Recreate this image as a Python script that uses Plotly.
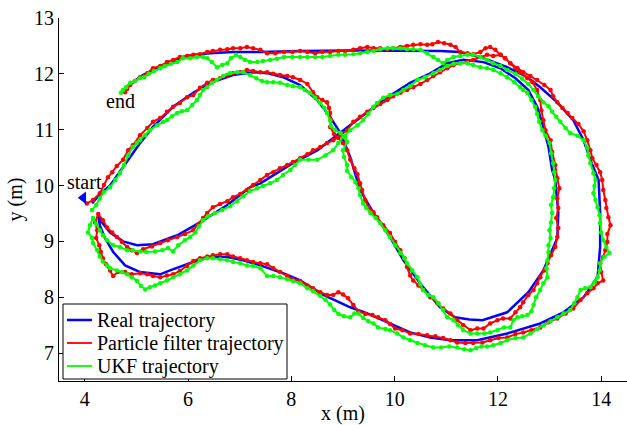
import plotly.graph_objects as go

# Real trajectory (x, y) in metres
real_xy = [(4.14,9.68),(4.30,9.85),(4.49,10.00),(4.66,10.22),(4.82,10.42),(5.07,10.76),(5.32,11.05),(5.71,11.41),
(6.10,11.66),(6.43,11.84),(6.87,11.98),(7.26,12.03),(7.55,12.01),(7.84,11.94),(8.17,11.80),(8.50,11.53),(8.75,11.23),
(8.95,10.94),(9.14,10.51),(9.33,9.92),(9.59,9.51),(9.91,9.08),(10.17,8.66),(10.55,8.18),(10.88,7.82),(11.17,7.64),
(11.45,7.60),(11.70,7.59),(12.18,7.73),(12.59,8.09),(12.88,8.48),(13.15,9.06),(13.17,9.51),(13.11,10.10),(13.05,10.28),
(12.98,10.69),(12.88,11.05),(12.76,11.41),(12.59,11.71),(12.34,11.92),(12.05,12.10),(11.72,12.21),(11.33,12.25),
(11.02,12.19),(10.69,12.01),(10.30,11.84),(9.78,11.53),(8.95,10.94),(8.50,10.63),(8.03,10.40),(7.59,10.15),(7.40,10.04),
(7.20,9.97),(6.76,9.65),(6.23,9.34),(5.79,9.11),(5.32,8.95),(5.01,8.93),(4.74,9.00),(4.49,9.16),(4.33,9.34),(4.26,9.45),
(4.29,9.29),(4.39,9.06),(4.55,8.81),(4.78,8.57),(5.07,8.45),(5.46,8.41),(5.65,8.48),(6.10,8.63),(6.43,8.72),(6.76,8.72),
(7.07,8.66),(7.40,8.57),(7.84,8.43),(8.17,8.30),(8.62,8.04),(9.14,7.82),(9.47,7.71),(9.91,7.53),(10.30,7.37),(10.69,7.28),
(11.08,7.23),(11.60,7.23),(12.18,7.35),(12.82,7.53),(13.27,7.73),(13.66,8.00),(13.93,8.36),(13.98,8.90),(13.98,9.51),
(13.95,10.10),(13.79,10.46),(13.66,10.81),(13.46,11.17),(13.15,11.49),(12.82,11.76),(12.57,11.94),(12.18,12.12),
(11.72,12.28),(11.27,12.39),(10.88,12.41),(9.14,12.42),(8.17,12.41),(7.40,12.39),(6.87,12.39),(6.43,12.37),(6.10,12.34),
(5.79,12.25),(5.46,12.12),(5.13,11.98),(4.82,11.78),(4.72,11.67)]

# Particle filter estimate
pf_xy = [(4.04,9.68),(4.16,9.74),(4.29,9.86),(4.37,10.01),(4.45,10.15),(4.53,10.24),(4.62,10.35),(4.74,10.46),(4.84,10.63),
(4.93,10.72),(5.07,10.90),(5.21,11.03),(5.32,11.14),(5.46,11.21),(5.59,11.32),(5.71,11.41),(5.84,11.48),(5.98,11.58),
(6.10,11.62),(6.23,11.75),(6.37,11.84),(6.48,11.89),(6.62,11.92),(6.76,11.98),(6.87,12.01),(7.01,12.03),(7.14,12.07),
(7.26,12.05),(7.40,12.03),(7.53,12.03),(7.65,12.00),(7.78,11.98),(7.92,11.96),(8.03,11.94),(8.17,11.89),(8.31,11.82),
(8.42,11.67),(8.50,11.58),(8.60,11.53),(8.69,11.49),(8.73,11.39),(8.75,11.30),(8.77,11.17),(8.75,11.05),(8.83,10.92),
(8.91,10.85),(9.00,10.76),(9.08,10.63),(9.14,10.46),(9.22,10.31),(9.28,10.20),(9.33,10.04),(9.37,9.92),(9.43,9.74),
(9.49,9.61),(9.59,9.52),(9.66,9.43),(9.78,9.29),(9.91,9.15),(10.01,8.99),(10.11,8.84),(10.19,8.70),(10.24,8.54),
(10.30,8.39),(10.36,8.30),(10.46,8.21),(10.55,8.13),(10.69,8.00),(10.83,7.89),(10.94,7.80),(11.08,7.71),(11.21,7.59),
(11.33,7.50),(11.47,7.41),(11.60,7.44),(11.72,7.44),(11.85,7.53),(11.99,7.59),(12.10,7.62),(12.24,7.62),(12.34,7.73),
(12.43,7.82),(12.49,7.91),(12.59,8.04),(12.69,8.13),(12.76,8.25),(12.82,8.36),(12.90,8.48),(12.96,8.61),(13.03,8.75),
(13.11,8.90),(13.15,9.08),(13.17,9.24),(13.13,9.42),(13.17,9.60),(13.15,9.77),(13.19,9.95),(13.15,10.13),(13.11,10.37),
(13.05,10.60),(13.02,10.81),(12.92,10.99),(12.88,11.17),(12.84,11.35),(12.82,11.53),(12.76,11.71),(12.67,11.85),
(12.57,11.92),(12.43,12.03),(12.34,12.10),(12.24,12.19),(12.14,12.28),(12.05,12.34),(11.91,12.32),(11.79,12.34),
(11.66,12.30),(11.52,12.25),(11.41,12.21),(11.27,12.19),(11.14,12.16),(11.02,12.10),(10.88,12.03),(10.75,11.96),
(10.63,11.89),(10.50,11.82),(10.36,11.76),(10.24,11.71),(10.11,11.66),(9.97,11.60),(9.86,11.53),(9.72,11.46),
(9.59,11.39),(9.47,11.32),(9.33,11.23),(9.20,11.14),(9.08,10.99),(8.95,10.90),(8.81,10.81),(8.69,10.76),(8.56,10.69),
(8.42,10.63),(8.31,10.56),(8.17,10.49),(8.03,10.42),(7.92,10.37),(7.78,10.31),(7.65,10.24),(7.53,10.19),(7.40,10.10),
(7.26,10.01),(7.14,9.92),(7.01,9.85),(6.87,9.79),(6.76,9.72),(6.62,9.67),(6.48,9.61),(6.37,9.51),(6.29,9.42),(6.19,9.29),
(6.10,9.20),(5.94,9.13),(5.79,9.08),(5.61,9.02),(5.46,8.97),(5.30,8.91),(5.13,8.86),(5.01,8.79),(4.91,8.84),(4.82,8.90),
(4.72,8.99),(4.62,9.08),(4.53,9.16),(4.43,9.25),(4.35,9.38),(4.26,9.49),(4.20,9.34),(4.24,9.20),(4.22,9.06),(4.28,8.93),
(4.31,8.81),(4.35,8.70),(4.41,8.59),(4.49,8.48),(4.55,8.38),(4.64,8.45),(4.78,8.45),(4.91,8.41),(5.07,8.43),(5.21,8.41),
(5.32,8.38),(5.46,8.36),(5.59,8.39),(5.71,8.41),(5.84,8.47),(5.98,8.56),(6.10,8.65),(6.23,8.70),(6.37,8.73),(6.48,8.75),
(6.62,8.77),(6.76,8.77),(6.87,8.73),(7.01,8.70),(7.14,8.66),(7.26,8.63),(7.40,8.61),(7.53,8.59),(7.65,8.52),(7.78,8.45),
(7.92,8.38),(8.03,8.32),(8.17,8.29),(8.31,8.21),(8.42,8.16),(8.56,8.09),(8.69,8.04),(8.81,8.04),(8.91,8.09),(9.00,8.05),
(9.10,7.98),(9.20,7.86),(9.30,7.75),(9.43,7.70),(9.57,7.68),(9.68,7.64),(9.82,7.59),(9.91,7.52),(10.01,7.44),(10.15,7.41),
(10.30,7.35),(10.46,7.34),(10.63,7.32),(10.79,7.30),(10.94,7.27),(11.08,7.23),(11.21,7.19),(11.37,7.18),(11.52,7.18),
(11.70,7.19),(11.85,7.23),(12.01,7.27),(12.18,7.28),(12.34,7.34),(12.49,7.37),(12.65,7.41),(12.82,7.46),(12.98,7.55),
(13.15,7.62),(13.31,7.71),(13.46,7.80),(13.60,7.95),(13.73,8.07),(13.85,8.16),(13.93,8.25),(14.04,8.30),(14.00,8.45),
(13.98,8.61),(14.04,8.72),(14.08,8.84),(14.12,8.99),(14.12,9.13),(14.18,9.29),(14.14,9.43),(14.10,9.60),(14.08,9.74),
(14.04,9.92),(14.02,10.10),(13.98,10.24),(13.91,10.37),(13.83,10.49),(13.79,10.63),(13.73,10.81),(13.66,10.97),
(13.56,11.10),(13.44,11.21),(13.35,11.30),(13.25,11.39),(13.15,11.49),(13.07,11.60),(13.02,11.71),(12.90,11.80),
(12.76,11.89),(12.63,11.96),(12.49,12.03),(12.38,12.10),(12.24,12.19),(12.14,12.28),(12.05,12.34),(11.95,12.43),
(11.85,12.48),(11.76,12.46),(11.66,12.39),(11.52,12.35),(11.41,12.37),(11.27,12.39),(11.18,12.48),(11.08,12.52),
(10.96,12.55),(10.84,12.57),(10.73,12.53),(10.63,12.52),(10.50,12.53),(10.36,12.52),(10.24,12.50),(10.11,12.48),
(9.97,12.46),(9.86,12.44),(9.72,12.46),(9.59,12.46),(9.47,12.48),(9.33,12.46),(9.20,12.43),(9.04,12.41),(8.91,12.41),
(8.75,12.39),(8.60,12.39),(8.46,12.37),(8.31,12.39),(8.17,12.41),(8.02,12.39),(7.86,12.39),(7.69,12.37),(7.53,12.37),
(7.40,12.43),(7.26,12.46),(7.14,12.48),(7.01,12.46),(6.87,12.46),(6.76,12.44),(6.62,12.43),(6.48,12.41),(6.37,12.39),
(6.23,12.35),(6.10,12.34),(5.98,12.32),(5.84,12.30),(5.71,12.25),(5.59,12.21),(5.46,12.14),(5.32,12.10),(5.21,12.01),
(5.07,11.94),(4.97,11.87),(4.88,11.80),(4.82,11.73),(4.78,11.67)]

# UKF estimate
ukf_xy = [(4.14,9.56),(4.22,9.65),(4.29,9.77),(4.37,9.88),(4.49,9.97),(4.59,10.10),(4.68,10.22),(4.76,10.37),(4.84,10.54),
(4.93,10.69),(5.01,10.76),(5.07,10.81),(5.17,10.90),(5.26,10.99),(5.40,11.08),(5.52,11.14),(5.59,11.17),(5.69,11.24),
(5.79,11.30),(5.88,11.33),(5.98,11.35),(6.08,11.44),(6.17,11.53),(6.23,11.62),(6.29,11.71),(6.37,11.76),(6.46,11.84),
(6.56,11.89),(6.68,11.96),(6.81,12.01),(6.95,12.03),(7.07,12.03),(7.20,11.98),(7.32,11.92),(7.43,11.87),(7.53,11.85),
(7.65,11.85),(7.78,11.84),(7.92,11.80),(8.03,11.78),(8.17,11.76),(8.26,11.71),(8.36,11.66),(8.46,11.57),(8.56,11.48),
(8.64,11.39),(8.69,11.30),(8.75,11.17),(8.77,11.06),(8.85,10.99),(8.95,10.94),(9.04,10.87),(9.08,10.78),(9.00,10.63),
(9.02,10.51),(9.08,10.37),(9.08,10.26),(9.16,10.15),(9.24,10.06),(9.30,9.95),(9.33,9.83),(9.39,9.68),(9.45,9.60),
(9.53,9.51),(9.63,9.42),(9.72,9.33),(9.82,9.20),(9.91,9.08),(10.01,8.93),(10.11,8.79),(10.19,8.70),(10.24,8.61),
(10.34,8.48),(10.44,8.36),(10.50,8.23),(10.55,8.13),(10.65,8.04),(10.75,8.00),(10.85,7.89),(10.94,7.77),(11.02,7.64),
(11.14,7.59),(11.23,7.50),(11.33,7.41),(11.47,7.35),(11.60,7.35),(11.74,7.35),(11.85,7.37),(11.99,7.41),(12.12,7.46),
(12.24,7.46),(12.30,7.59),(12.38,7.64),(12.47,7.66),(12.57,7.68),(12.65,7.75),(12.69,7.86),(12.74,8.00),(12.82,8.13),
(12.88,8.25),(12.96,8.36),(12.94,8.52),(12.96,8.66),(12.98,8.81),(12.98,8.93),(13.02,9.06),(13.00,9.20),(13.03,9.34),
(13.05,9.51),(13.03,9.65),(13.07,9.79),(13.09,9.95),(13.11,10.10),(13.09,10.24),(13.07,10.40),(13.03,10.58),(13.00,10.76),
(12.92,10.89),(12.86,10.99),(12.80,11.14),(12.76,11.28),(12.72,11.41),(12.65,11.53),(12.57,11.66),(12.49,11.71),
(12.43,11.76),(12.32,11.85),(12.18,11.94),(12.05,12.01),(11.91,12.07),(11.79,12.10),(11.66,12.12),(11.52,12.16),
(11.41,12.19),(11.27,12.19),(11.14,12.18),(11.02,12.14),(10.88,12.07),(10.75,12.01),(10.59,11.94),(10.44,11.89),
(10.30,11.78),(10.17,11.71),(10.05,11.64),(9.91,11.62),(9.78,11.57),(9.66,11.48),(9.59,11.41),(9.49,11.28),(9.39,11.17),
(9.28,11.08),(9.14,10.99),(9.00,10.87),(8.91,10.76),(8.81,10.63),(8.66,10.54),(8.50,10.46),(8.33,10.46),(8.17,10.46),
(8.07,10.37),(7.98,10.28),(7.84,10.19),(7.72,10.10),(7.59,10.04),(7.45,9.99),(7.34,9.95),(7.20,9.90),(7.07,9.81),
(6.95,9.72),(6.81,9.63),(6.66,9.56),(6.52,9.51),(6.39,9.45),(6.29,9.38),(6.21,9.27),(6.14,9.16),(6.04,9.08),(5.94,9.02),
(5.81,8.93),(5.71,8.82),(5.61,8.88),(5.50,8.84),(5.36,8.82),(5.19,8.81),(5.07,8.82),(4.93,8.84),(4.82,8.84),(4.68,8.90),
(4.55,8.93),(4.43,9.02),(4.35,9.11),(4.29,9.20),(4.22,9.31),(4.16,9.42),(4.10,9.29),(4.06,9.16),(4.14,9.06),(4.16,8.97),
(4.24,8.84),(4.29,8.73),(4.35,8.64),(4.43,8.57),(4.49,8.52),(4.62,8.48),(4.72,8.45),(4.82,8.41),(4.91,8.36),(5.01,8.29),
(5.09,8.20),(5.17,8.14),(5.26,8.18),(5.36,8.21),(5.46,8.25),(5.59,8.30),(5.71,8.36),(5.84,8.41),(5.98,8.48),(6.10,8.57),
(6.23,8.66),(6.37,8.70),(6.48,8.70),(6.62,8.68),(6.76,8.66),(6.87,8.63),(7.01,8.61),(7.14,8.57),(7.26,8.56),(7.40,8.52),
(7.53,8.38),(7.65,8.38),(7.78,8.36),(7.92,8.32),(8.03,8.29),(8.17,8.25),(8.31,8.16),(8.42,8.11),(8.56,8.02),(8.66,7.95),
(8.75,7.87),(8.83,7.77),(8.91,7.70),(9.02,7.66),(9.14,7.64),(9.22,7.71),(9.30,7.71),(9.39,7.63),(9.49,7.57),(9.59,7.53),
(9.68,7.46),(9.82,7.43),(9.91,7.41),(10.05,7.35),(10.17,7.28),(10.30,7.23),(10.44,7.18),(10.59,7.14),(10.75,7.10),
(10.90,7.10),(11.06,7.12),(11.21,7.10),(11.35,7.07),(11.47,7.05),(11.58,7.09),(11.68,7.12),(11.79,7.12),(11.91,7.14),
(12.05,7.18),(12.18,7.23),(12.34,7.27),(12.49,7.28),(12.63,7.35),(12.76,7.43),(12.88,7.50),(13.02,7.57),(13.15,7.64),
(13.27,7.71),(13.40,7.77),(13.48,7.89),(13.54,8.00),(13.60,8.13),(13.69,8.16),(13.79,8.18),(13.87,8.27),(13.93,8.36),
(13.97,8.48),(13.98,8.61),(14.06,8.72),(14.16,8.79),(14.10,8.90),(14.04,9.02),(14.00,9.16),(13.98,9.33),(13.97,9.47),
(13.93,9.61),(13.89,9.74),(13.85,9.86),(13.87,9.99),(13.89,10.10),(13.85,10.22),(13.79,10.40),(13.75,10.54),(13.73,10.67),
(13.66,10.81),(13.54,10.89),(13.40,10.94),(13.31,11.03),(13.21,11.14),(13.13,11.23),(13.05,11.32),(12.98,11.42),
(12.88,11.49),(12.78,11.60),(12.69,11.71),(12.59,11.82),(12.47,11.91),(12.34,12.00),(12.18,12.07),(12.05,12.14),
(11.91,12.19),(11.79,12.25),(11.66,12.30),(11.52,12.34),(11.41,12.34),(11.27,12.32),(11.14,12.30),(11.02,12.25),
(10.94,12.19),(10.84,12.25),(10.75,12.30),(10.63,12.37),(10.50,12.43),(10.36,12.44),(10.24,12.44),(10.11,12.46),
(9.97,12.46),(9.86,12.46),(9.72,12.44),(9.59,12.41),(9.47,12.39),(9.33,12.37),(9.20,12.35),(9.04,12.34),(8.91,12.34),
(8.75,12.32),(8.60,12.30),(8.46,12.30),(8.31,12.30),(8.17,12.30),(8.02,12.30),(7.86,12.30),(7.72,12.27),(7.59,12.25),
(7.45,12.23),(7.34,12.21),(7.20,12.21),(7.10,12.25),(7.01,12.30),(6.93,12.34),(6.83,12.28),(6.76,12.19),(6.66,12.16),
(6.56,12.12),(6.46,12.21),(6.37,12.28),(6.29,12.30),(6.17,12.30),(6.04,12.28),(5.90,12.28),(5.79,12.21),(5.67,12.18),
(5.55,12.14),(5.46,12.10),(5.34,12.05),(5.24,12.00),(5.15,11.94),(5.07,11.92),(4.97,11.87),(4.88,11.84),(4.80,11.76),
(4.74,11.71),(4.70,11.66)]

start_xy = (3.97, 9.78)
labels = [("start", 4.00, 10.06), ("end", 4.70, 11.51)]
series_names = ["Real trajectory", "Particle filter trajectory", "UKF trajectory"]
x_ticks = [4, 6, 8, 10, 12, 14]
y_ticks = [7, 8, 9, 10, 11, 12, 13]

BLUE, RED, GREEN = "#0000ff", "#ff0000", "#00ff00"
FONT = "Times New Roman, Liberation Serif, DejaVu Serif, serif"
TXT = dict(family=FONT, size=20, color="black")

def xs(p):
    return [a for a, b in p]

def ys(p):
    return [b for a, b in p]

fig = go.Figure()
fig.add_trace(go.Scatter(x=xs(real_xy), y=ys(real_xy), mode="lines",
                         line=dict(color=BLUE, width=2.5), showlegend=False))
fig.add_trace(go.Scatter(x=xs(pf_xy), y=ys(pf_xy), mode="lines+markers",
                         line=dict(color=RED, width=2), marker=dict(color=RED, size=4.5),
                         showlegend=False))
fig.add_trace(go.Scatter(x=xs(ukf_xy), y=ys(ukf_xy), mode="lines+markers",
                         line=dict(color=GREEN, width=2), marker=dict(color=GREEN, size=4.5),
                         showlegend=False))
fig.add_trace(go.Scatter(x=[start_xy[0]], y=[start_xy[1]], mode="markers",
                         marker=dict(symbol="triangle-left", size=11, color=BLUE),
                         showlegend=False))

for t, x, y in labels:
    fig.add_annotation(x=x, y=y, text=t, showarrow=False, font=TXT)

# Legend drawn in paper coordinates (box at lower left of the axes)
PX_W, PX_H = 568.0, 363.0
def px(v):
    return (v - 59) / PX_W
def py(v):
    return (381 - v) / PX_H

fig.add_shape(type="rect", xref="paper", yref="paper", x0=px(63), x1=px(287), y0=py(379), y1=py(304),
              line=dict(color="black", width=1), fillcolor="white", layer="above")
for i, (name, col) in enumerate(zip(series_names, [BLUE, RED, GREEN])):
    yc = py(320 + 23 * i)
    fig.add_shape(type="line", xref="paper", yref="paper", x0=px(67), x1=px(92), y0=yc, y1=yc,
                  line=dict(color=col, width=2.5 if col == BLUE else 1.8), layer="above")
    fig.add_annotation(xref="paper", yref="paper", x=px(95), y=yc, text=name, showarrow=False,
                       xanchor="left", yanchor="middle", font=TXT)

axis_common = dict(showline=True, linecolor="black", linewidth=1, ticks="inside",
                   ticklen=5, tickcolor="black", showgrid=False, zeroline=False,
                   mirror=False, tickfont=TXT)
fig.update_xaxes(range=[3.5, 14.5], tickvals=x_ticks, ticktext=[str(v) for v in x_ticks],
                 title=dict(text="x (m)", font=TXT, standoff=0), **axis_common)
fig.update_yaxes(range=[6.5, 13], tickvals=y_ticks, ticktext=[str(v) for v in y_ticks],
                 title=dict(text="y (m)", font=TXT, standoff=6), **axis_common)

fig.update_layout(
    width=627, height=425,
    margin=dict(l=59, r=0, t=18, b=44),
    plot_bgcolor="white", paper_bgcolor="white",
    font=TXT,
    showlegend=False,
)

fig.write_html("out.html")
